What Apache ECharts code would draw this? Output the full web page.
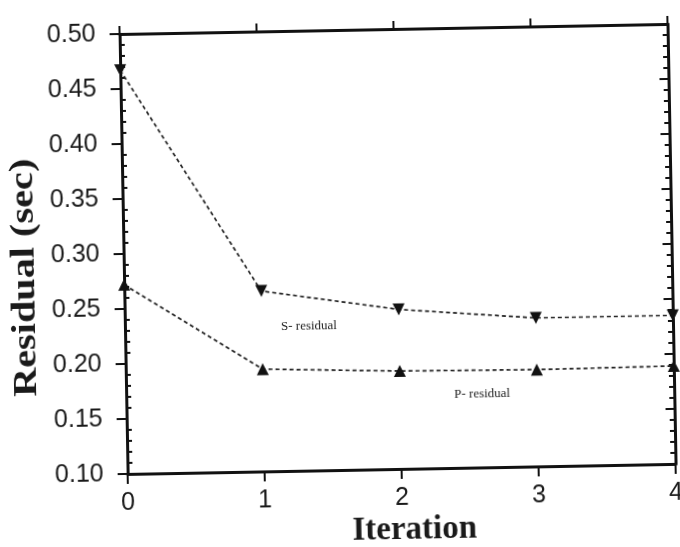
<!DOCTYPE html>
<html><head><meta charset="utf-8">
<script src="https://cdn.jsdelivr.net/npm/echarts@6/dist/echarts.min.js"></script>
<style>html,body{margin:0;padding:0;background:#fff;overflow:hidden}#c{width:680px;height:547px;transform:rotate(-1.05deg);transform-origin:50% 50%}</style>
</head><body><div id="c"></div>
<script>
const iterations = [0, 1, 2, 3, 4];
const sResidual = [0.467, 0.264, 0.245, 0.235, 0.235];
const pResidual = [0.272, 0.193, 0.189, 0.188, 0.189];
const yTicks = [0.10, 0.15, 0.20, 0.25, 0.30, 0.35, 0.40, 0.45, 0.50];
const xTicks = [0, 1, 2, 3, 4];

const chart = echarts.init(document.getElementById('c'));
const axisLine = {show: true, lineStyle: {color: '#111', width: 3}};
const yMin = yTicks[0], yMax = yTicks[yTicks.length - 1];
const xMin = xTicks[0], xMax = xTicks[xTicks.length - 1];
chart.setOption({
  animation: false,
  backgroundColor: '#fff',
  grid: {left: 124, right: 8, top: 30, bottom: 77, outerBoundsMode: 'none', containLabel: false},
  xAxis: [{
    type: 'value', min: xMin, max: xMax, interval: 1,
    axisLine: axisLine,
    axisTick: {show: true, inside: false, length: 10, lineStyle: {color: '#111', width: 2}},
    axisLabel: {fontFamily: 'Liberation Sans', fontSize: 25, color: '#1a1a1a', margin: 17},
    splitLine: {show: false}
  }, {
    type: 'value', min: xMin, max: xMax, interval: 1, position: 'top',
    axisLine: axisLine,
    axisTick: {show: true, inside: false, length: 8, lineStyle: {color: '#111', width: 2}},
    axisLabel: {show: false}, splitLine: {show: false}
  }],
  yAxis: [{
    type: 'value', min: yMin, max: yMax, interval: 0.05,
    axisLine: axisLine,
    axisTick: {show: true, inside: false, length: 10, lineStyle: {color: '#111', width: 2}},
    axisLabel: {fontFamily: 'Liberation Sans', fontSize: 25, color: '#1a1a1a', margin: 24,
      formatter: v => v.toFixed(2)},
    splitLine: {show: false}
  }, {
    type: 'value', min: yMin, max: yMax, interval: 0.05, position: 'left',
    axisLine: {show: false},
    axisTick: {show: false, inside: true},
    minorTick: {show: true, splitNumber: 5, length: 5, lineStyle: {color: '#111', width: 2}},
    axisLabel: {show: false}, splitLine: {show: false}
  }, {
    type: 'value', min: yMin, max: yMax, interval: 0.05, position: 'right',
    axisLine: axisLine,
    axisTick: {show: true, inside: true, length: 9, lineStyle: {color: '#111', width: 2}},
    minorTick: {show: true, splitNumber: 5, length: 5, lineStyle: {color: '#111', width: 2}},
    axisLabel: {show: false}, splitLine: {show: false}
  }],
  series: [{
    name: 'S- residual', type: 'line',
    data: iterations.map((x, i) => [x, sResidual[i]]),
    symbol: 'triangle', symbolRotate: 180, symbolSize: 12,
    itemStyle: {color: '#111'},
    lineStyle: {color: '#222', width: 1.7, type: [4, 3]},
    clip: false, z: 5
  }, {
    name: 'P- residual', type: 'line',
    data: iterations.map((x, i) => [x, pResidual[i]]),
    symbol: 'triangle', symbolSize: 12,
    itemStyle: {color: '#111'},
    lineStyle: {color: '#222', width: 1.7, type: [4, 3]},
    clip: false, z: 5
  }],
  graphic: [
    {type: 'text', x: 25, y: 272, rotation: Math.PI / 2, scaleX: 1.22,
      style: {text: 'Residual (sec)', font: 'bold 33px "Liberation Serif"', fill: '#1a1a1a',
        align: 'center', verticalAlign: 'middle'}},
    {type: 'text', x: 410, y: 531,
      style: {text: 'Iteration', font: 'bold 33px "Liberation Serif"', fill: '#1a1a1a',
        align: 'center', verticalAlign: 'middle'}},
    {type: 'text', x: 308, y: 326, style: {text: 'S- residual', font: '13px "Liberation Serif"', fill: '#222', align: 'center', verticalAlign: 'middle'}},
    {type: 'text', x: 480, y: 397, style: {text: 'P- residual', font: '13px "Liberation Serif"', fill: '#222', align: 'center', verticalAlign: 'middle'}}
  ]
});
</script></body></html>
